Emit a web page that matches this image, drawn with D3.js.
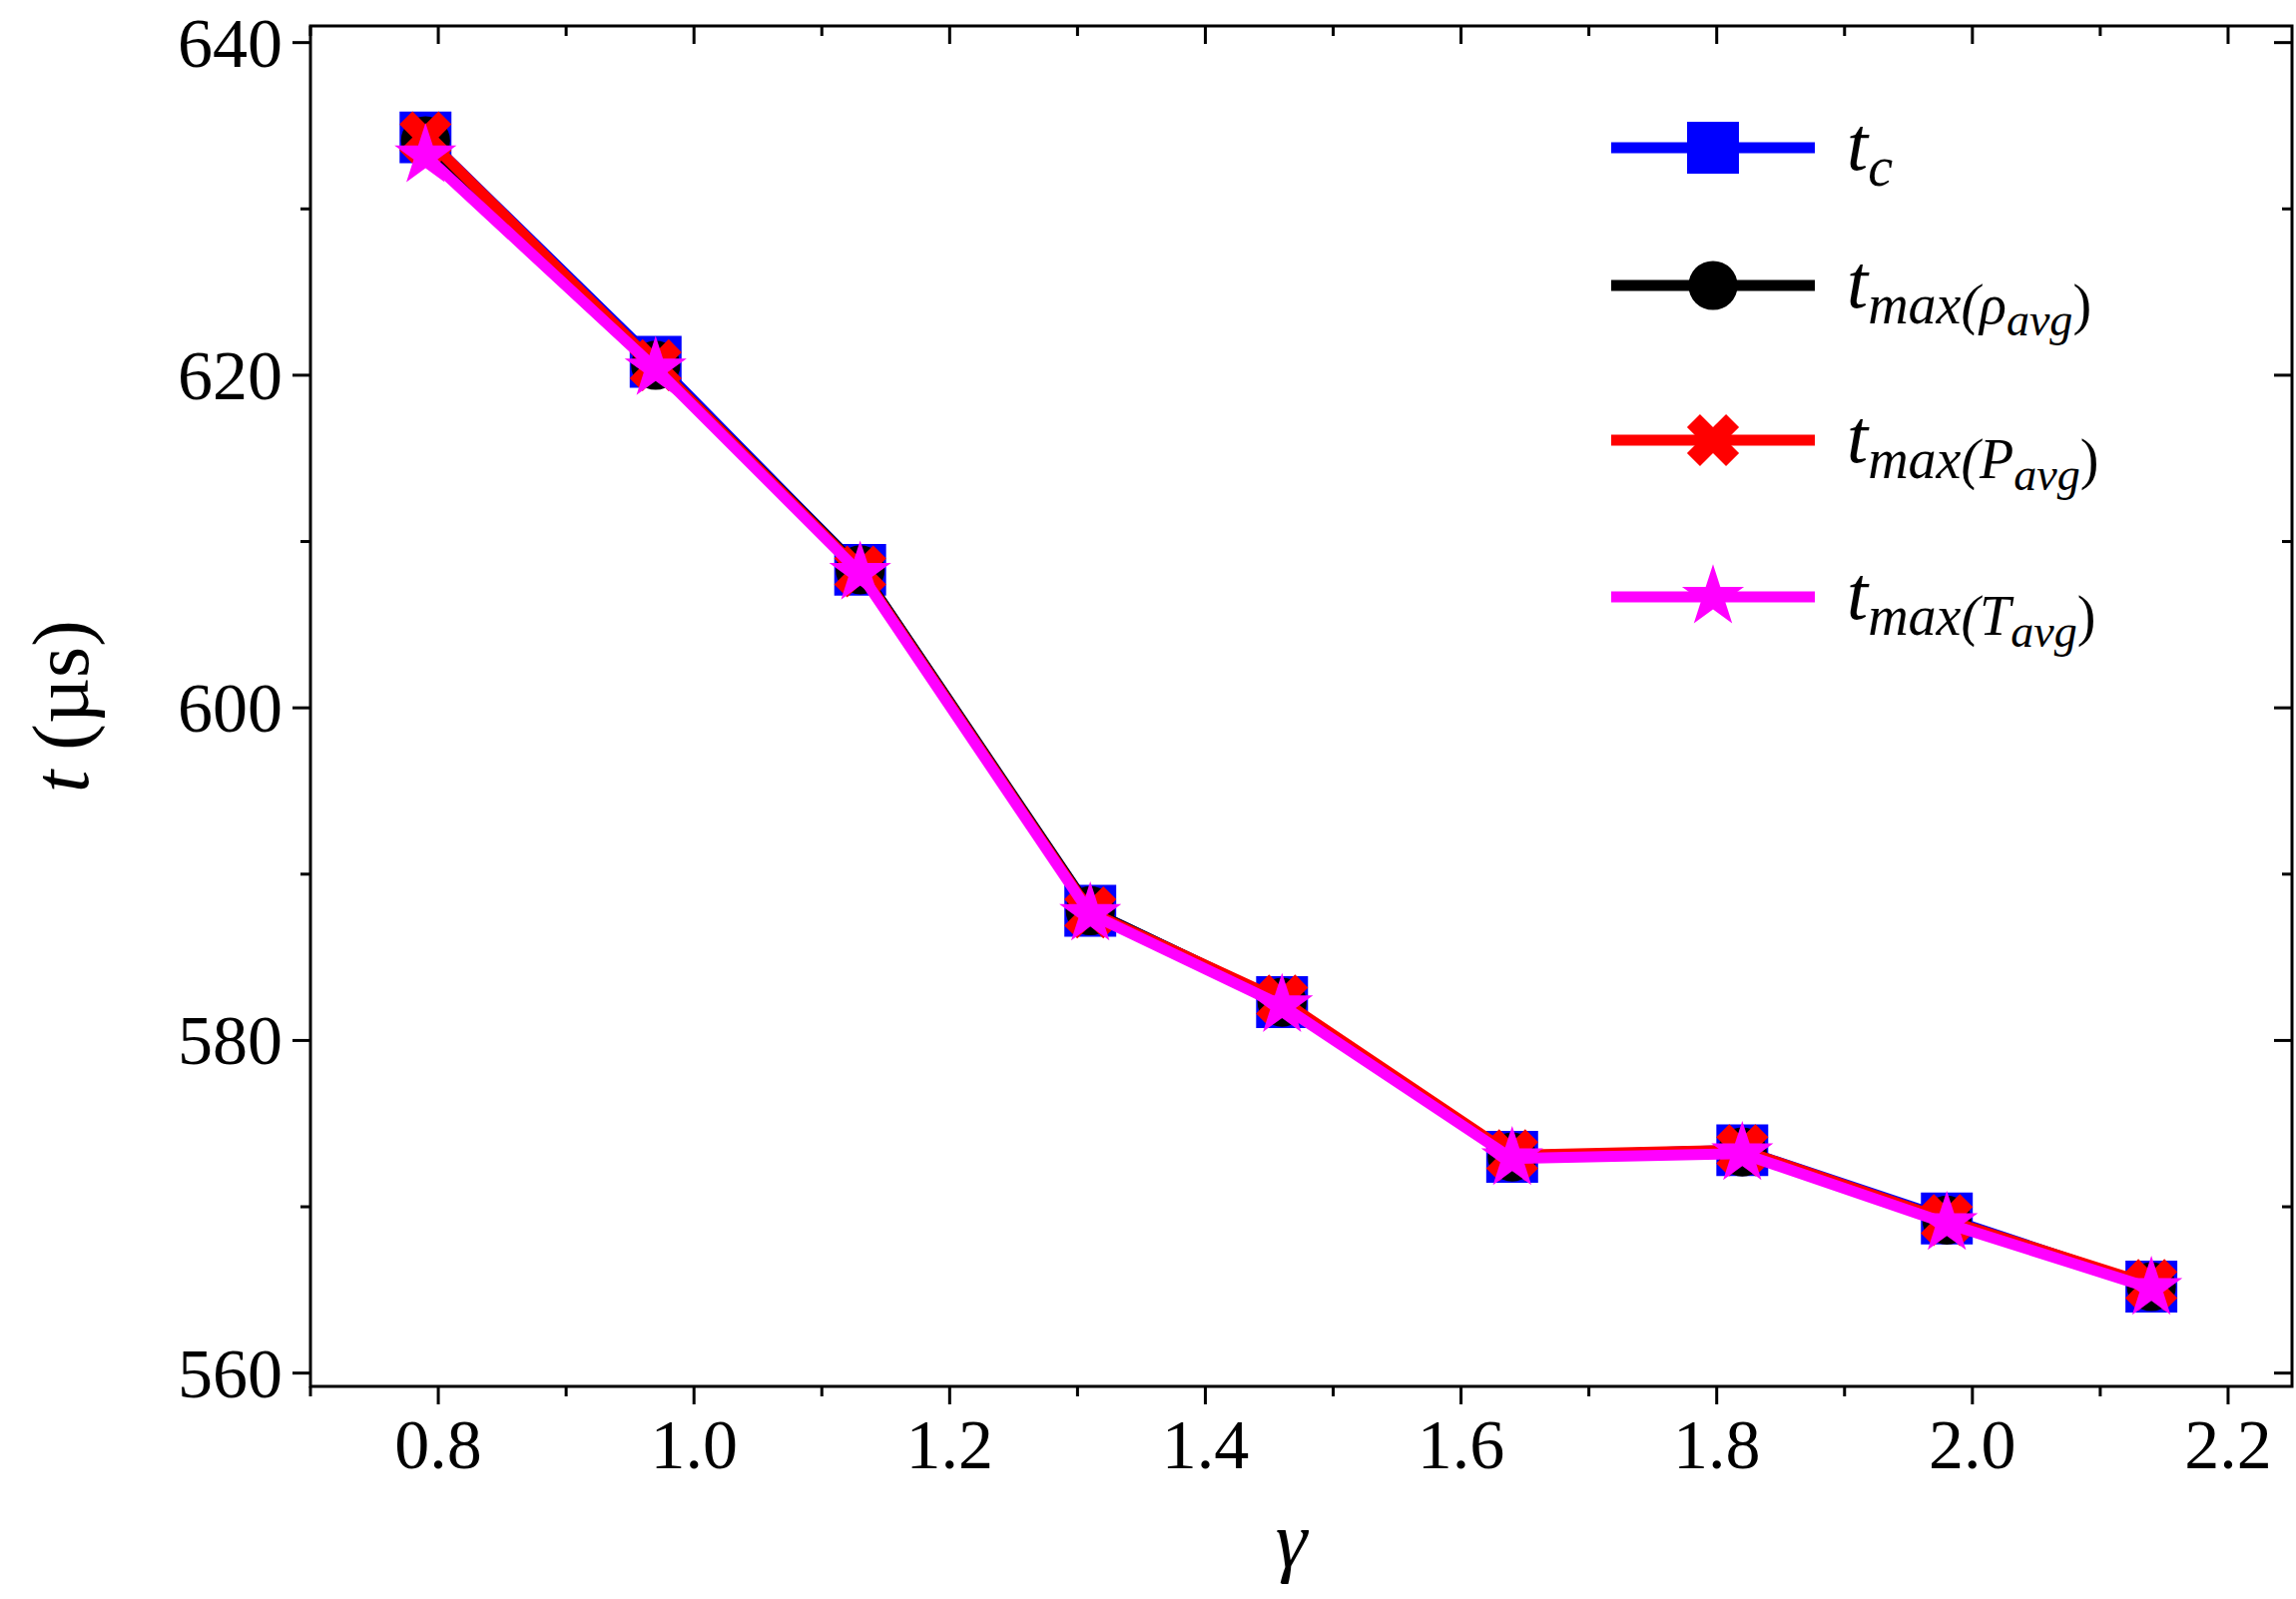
<!DOCTYPE html>
<html><head><meta charset="utf-8">
<script src="https://cdn.jsdelivr.net/npm/d3@7"></script>
<style>body{margin:0;background:#fff}</style>
</head><body><svg id="c" width="2300" height="1602" font-family="Liberation Serif, Times New Roman, serif"></svg>
<script>
var gamma = [0.79, 0.97, 1.13, 1.31, 1.46, 1.64, 1.82, 1.98, 2.14];
var tc   = [634.3, 620.8, 608.3, 587.8, 582.3, 573.0, 573.4, 569.3, 565.2];
var tRho = [634.1, 620.6, 608.3, 587.8, 582.3, 573.0, 573.3, 569.2, 565.2];
var tP   = [634.3, 620.6, 608.2, 587.7, 582.4, 573.1, 573.4, 569.2, 565.3];
var tT   = [633.2, 620.4, 608.1, 587.6, 582.1, 572.9, 573.2, 569.0, 565.1];
var xTicks = [0.8, 1.0, 1.2, 1.4, 1.6, 1.8, 2.0, 2.2];
var yTicks = [560, 580, 600, 620, 640];

var svg = d3.select('#c');
var L = 311, R = 2296, T = 26, B = 1389;
var x = d3.scaleLinear().domain([0.70, 2.25]).range([L, R]);
var y = d3.scaleLinear().domain([559.2, 641]).range([B, T]);

svg.append('rect').attr('x', L).attr('y', T).attr('width', R - L).attr('height', B - T)
  .attr('fill', 'none').attr('stroke', '#000').attr('stroke-width', 3);

var xMinor = d3.range(0.7, 2.26, 0.1).map(function(v){ return +v.toFixed(2); });
var yMinor = d3.range(560, 641, 10);

xMinor.forEach(function(v){
  var major = xTicks.some(function(t){ return Math.abs(t - v) < 1e-6; });
  var len = major ? 18 : 10;
  svg.append('line').attr('x1', x(v)).attr('x2', x(v)).attr('y1', B).attr('y2', B + len).attr('stroke', '#000').attr('stroke-width', 3);
  svg.append('line').attr('x1', x(v)).attr('x2', x(v)).attr('y1', T).attr('y2', T + len).attr('stroke', '#000').attr('stroke-width', 3);
});
yMinor.forEach(function(v){
  var major = v % 20 === 0;
  var len = major ? 18 : 10;
  svg.append('line').attr('x1', L).attr('x2', L - len).attr('y1', y(v)).attr('y2', y(v)).attr('stroke', '#000').attr('stroke-width', 3);
  svg.append('line').attr('x1', R).attr('x2', R - len).attr('y1', y(v)).attr('y2', y(v)).attr('stroke', '#000').attr('stroke-width', 3);
});
xTicks.forEach(function(v){
  svg.append('text').attr('x', x(v)).attr('y', B + 82).attr('text-anchor', 'middle')
    .attr('font-size', 70).text(v.toFixed(1));
});
yTicks.forEach(function(v){
  svg.append('text').attr('x', L - 28).attr('y', y(v) + 24).attr('text-anchor', 'end')
    .attr('font-size', 70).text(v);
});

svg.append('text').attr('x', (L + R) / 2 - 10).attr('y', 1570).attr('text-anchor', 'middle')
  .attr('font-size', 80).attr('font-style', 'italic').text('γ');
svg.append('text').attr('transform', 'translate(88,' + (T + B) / 2 + ') rotate(-90)')
  .attr('text-anchor', 'middle').attr('font-size', 80)
  .html('<tspan font-style="italic">t</tspan> (µs)');

var line = d3.line().x(function(d, i){ return x(gamma[i]); }).y(function(d){ return y(d); });

var series = [
  {vals: tc, color: '#0000ff', sym: d3.symbolSquare, size: 2700},
  {vals: tRho, color: '#000000', sym: d3.symbolCircle, size: 1900},
  {vals: tP, color: '#ff0000', sym: d3.symbolCross, size: 1700},
  {vals: tT, color: '#ff00ff', sym: d3.symbolStar, size: 1200}
];
function mark(s, cx, cy) {
  var p = svg.append('path').attr('d', d3.symbol(s.sym, s.size)()).attr('fill', s.color);
  var rot = s.sym === d3.symbolCross ? ' rotate(45)' : '';
  p.attr('transform', 'translate(' + cx + ',' + cy + ')' + rot);
}
series.forEach(function(s){
  svg.append('path').attr('d', line(s.vals)).attr('fill', 'none').attr('stroke', s.color).attr('stroke-width', 11);
  s.vals.forEach(function(v, i){ mark(s, x(gamma[i]), y(v)); });
});

var legY = [148, 286, 441, 598];
var subs = [
  '<tspan font-style="italic">t</tspan><tspan font-style="italic" font-size="56" dy="16">c</tspan>',
  '<tspan font-style="italic">t</tspan><tspan font-style="italic" font-size="56" dy="16">max(ρ</tspan><tspan font-style="italic" font-size="46" dy="12">avg</tspan><tspan font-size="56" dy="-12">)</tspan>',
  '<tspan font-style="italic">t</tspan><tspan font-style="italic" font-size="56" dy="16">max(P</tspan><tspan font-style="italic" font-size="46" dy="12">avg</tspan><tspan font-size="56" dy="-12">)</tspan>',
  '<tspan font-style="italic">t</tspan><tspan font-style="italic" font-size="56" dy="16">max(T</tspan><tspan font-style="italic" font-size="46" dy="12">avg</tspan><tspan font-size="56" dy="-12">)</tspan>'
];
series.forEach(function(s, k){
  var ly = legY[k];
  svg.append('line').attr('x1', 1614).attr('x2', 1818).attr('y1', ly).attr('y2', ly).attr('stroke', s.color).attr('stroke-width', 11);
  mark(s, 1716, ly);
  svg.append('text').attr('x', 1850).attr('y', ly + 22).attr('font-size', 76).html(subs[k]);
});
</script></body></html>
